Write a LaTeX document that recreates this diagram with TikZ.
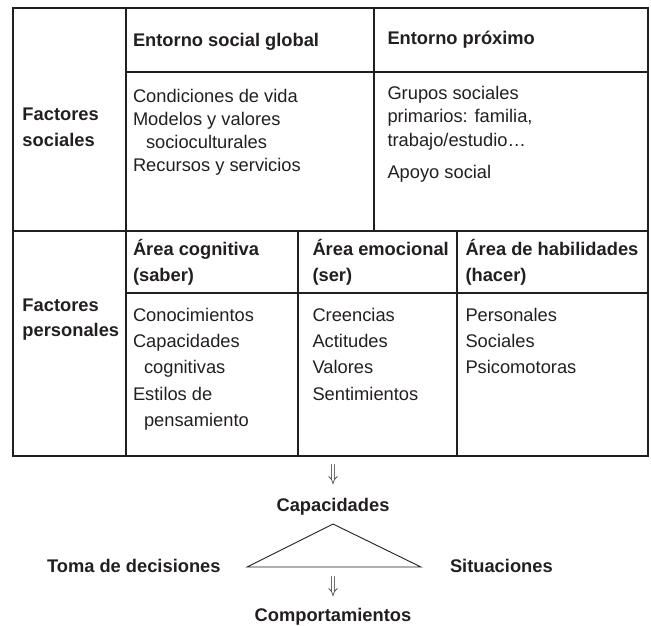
\documentclass[tikz,border=0pt]{standalone}
\usepackage{fontspec}
\setmainfont{Liberation Sans}
\usepackage{graphicx}
\definecolor{ink}{HTML}{231F20}
\begin{document}
\begin{tikzpicture}[x=1pt,y=-1pt,
  txt/.style={inner sep=0pt, outer sep=0pt, anchor=base west, text=ink,
              font=\fontsize{18.3}{22}\selectfont},
  btxt/.style={inner sep=0pt, outer sep=0pt, anchor=base west, text=ink,
              font=\fontsize{18.3}{22}\selectfont\bfseries},
  tbl/.style={draw=ink, line width=1.6pt},
  tri/.style={draw=ink, line width=0.9pt, line join=miter},
  dnarrow/.style={inner sep=0pt, outer sep=0pt, text=ink, anchor=center}]
\useasboundingbox (0,0) rectangle (651,625);

% table grid
\draw[tbl] (13,8) rectangle (648,456);
\draw[tbl] (126,8) -- (126,456);
\draw[tbl] (374,8) -- (374,231);
\draw[tbl] (126,71.7) -- (648,71.7);
\draw[tbl] (13,231) -- (648,231);
\draw[tbl] (126,293) -- (648,293);
\draw[tbl] (298,231) -- (298,456);
\draw[tbl] (457,231) -- (457,456);

% top section
\node[btxt] (fs1) at (22.5,120.5) {Factores};
\node[btxt] (fs2) at (22.5,146) {sociales};
\node[btxt] (esg) at (133,46) {Entorno social global};
\node[btxt] (ep) at (387.5,44.5) {Entorno próximo};
\node[txt] (g1) at (133,102) {Condiciones de vida};
\node[txt] (g2) at (133,125.3) {Modelos y valores};
\node[txt] (g3) at (146,148.6) {socioculturales};
\node[txt] (g4) at (133,171.9) {Recursos y servicios};
\node[txt] (p1) at (387.5,99) {Grupos sociales};
\node[txt] (p2) at (387.5,122.8) {primarios: familia,};
\node[txt] (p3) at (387.5,146.6) {trabajo/estudio…};
\node[txt] (p4) at (387.5,178) {Apoyo social};

% bottom section
\node[btxt] (fp1) at (22.5,311.7) {Factores};
\node[btxt] (fp2) at (22.5,336.7) {personales};
\node[btxt] (ac1) at (133,255) {Área cognitiva};
\node[btxt] (ac2) at (133,281.5) {(saber)};
\node[btxt] (ae1) at (312.5,255) {Área emocional};
\node[btxt] (ae2) at (312.5,281.5) {(ser)};
\node[btxt] (ah1) at (465.5,255) {Área de habilidades};
\node[btxt] (ah2) at (465.5,281.5) {(hacer)};
\node[txt] (c1) at (133,321.7) {Conocimientos};
\node[txt] (c2) at (133,347.8) {Capacidades};
\node[txt] (c3) at (144,373.9) {cognitivas};
\node[txt] (c4) at (133,400) {Estilos de};
\node[txt] (c5) at (144,426.1) {pensamiento};
\node[txt] (e1) at (312.5,321.7) {Creencias};
\node[txt] (e2) at (312.5,347.8) {Actitudes};
\node[txt] (e3) at (312.5,373.9) {Valores};
\node[txt] (e4) at (312.5,400) {Sentimientos};
\node[txt] (h1) at (465.5,321.7) {Personales};
\node[txt] (h2) at (465.5,347.8) {Sociales};
\node[txt] (h3) at (465.5,373.9) {Psicomotoras};

% lower diagram
\node[dnarrow] (d1) at (333,475) {\resizebox{10pt}{16pt}{$\Downarrow$}};
\node[btxt, anchor=base] (cap) at (333,511.5) {Capacidades};
\coordinate (tA) at (333,524);
\coordinate (tL) at (247,567);
\coordinate (tR) at (421,567);
\draw[tri] (tA) -- (tL) -- (tR) -- cycle;
\node[btxt] (toma) at (47,572.5) {Toma de decisiones};
\node[btxt] (sit) at (450,572.5) {Situaciones};
\node[dnarrow] (d2) at (333,587) {\resizebox{10pt}{16pt}{$\Downarrow$}};
\node[btxt, anchor=base] (comp) at (333,621.3) {Comportamientos};
\end{tikzpicture}
\end{document}
